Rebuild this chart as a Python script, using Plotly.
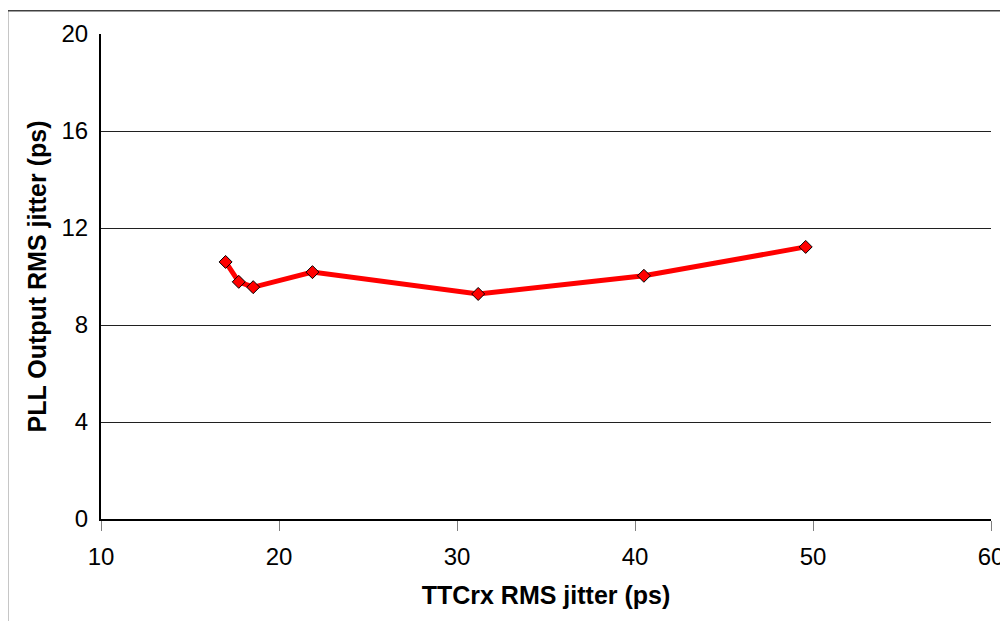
import plotly.graph_objects as go

ttcrx_jitter = [17.0, 17.74, 18.55, 21.88, 31.19, 40.50, 49.59]
pll_jitter = [10.60, 9.78, 9.56, 10.18, 9.28, 10.03, 11.22]
x_ticks = [10, 20, 30, 40, 50, 60]
y_ticks = [0, 4, 8, 12, 16, 20]

FONT = "Liberation Sans, Arial, sans-serif"

fig = go.Figure()
fig.add_trace(go.Scatter(
    x=ttcrx_jitter, y=pll_jitter, mode="lines+markers",
    line=dict(color="#ff0000", width=5),
    marker=dict(symbol="diamond", size=10, color="#ff0000",
                line=dict(color="#000000", width=1)),
    showlegend=False,
))

fig.update_layout(
    width=1008, height=621,
    margin=dict(l=93, r=20, t=24, b=110),
    paper_bgcolor="white", plot_bgcolor="white",
    font=dict(family=FONT, size=24, color="black"),
    xaxis=dict(
        range=[10, 60], tickvals=x_ticks, showgrid=False, zeroline=False,
        showline=True, linecolor="black", linewidth=2,
        ticks="outside", ticklen=10, tickcolor="#808080", tickwidth=1,
        ticklabelstandoff=5,
        title=dict(text="<b>TTCrx RMS jitter (ps)</b>", font=dict(size=25), standoff=18),
    ),
    yaxis=dict(
        range=[0, 20], tickvals=y_ticks, showgrid=True, gridcolor="#202020", gridwidth=1,
        zeroline=False, showline=True, linecolor="black", linewidth=2,
        ticks="", ticklabelstandoff=6,
        title=dict(text="<b>PLL Output RMS jitter (ps)</b>", font=dict(size=25), standoff=8),
    ),
    shapes=[dict(type="rect", xref="paper", yref="paper",
                 x0=-0.105, x1=1.03, y0=-0.3, y1=1.048,
                 line=dict(color="#404040", width=1.5), fillcolor="rgba(0,0,0,0)", layer="below")],
)

fig.write_html("out.html")
